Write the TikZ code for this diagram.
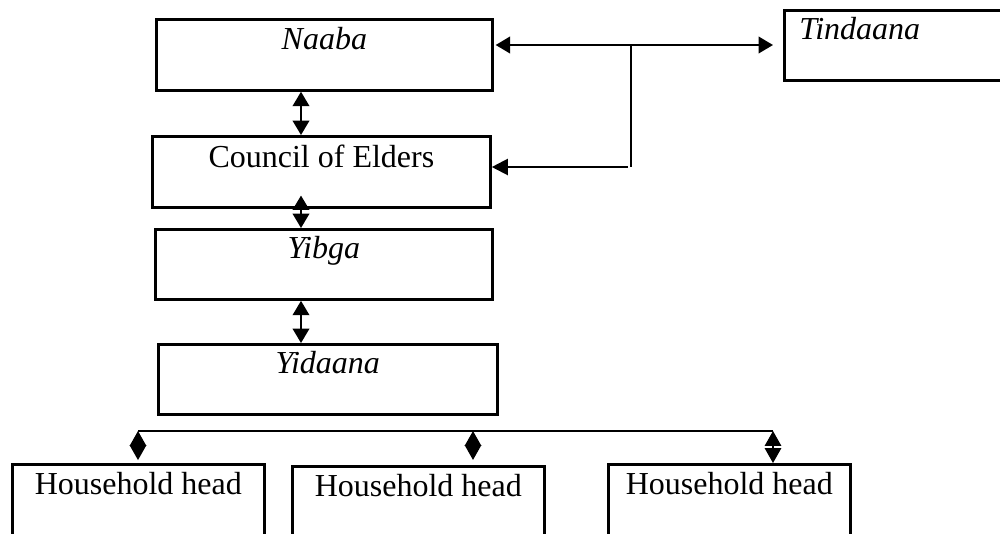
\documentclass[tikz,border=0pt]{standalone}
\usepackage{fontspec}
\setmainfont{Liberation Serif}
\usetikzlibrary{arrows.meta}
\tikzset{
  org box/.style={draw=black, line width=1pt, rectangle, anchor=north west,
    inner xsep=0pt, inner ysep=0pt, font=\fontsize{12}{14}\selectfont},
  org link/.style={draw=black, line width=0.8pt},
  org bar/.style={draw=black, line width=0.5pt},
}

\begin{document}
\begin{tikzpicture}[
  x=0.375pt, y=-0.375pt,
  both/.style={org link, {Triangle[length=5.4pt,width=6.2pt]}-{Triangle[length=5.4pt,width=6.2pt]}},
  toward/.style={org link, -{Triangle[length=6pt,width=6pt]}},
  pair/.style={org bar, {Triangle[length=5.6pt,width=6.2pt]}-{Triangle[length=5.6pt,width=6.2pt]}}
]
  \clip (0,0) rectangle (1000,533);

  \node[org box, minimum width=126pt, text height=11.25pt, text depth=15.4pt] (naaba) at (155,18) {\textit{Naaba}};
  \node[org box, minimum width=126.8pt, text height=11.6pt, text depth=15pt] (council) at (151,135) {Council of Elders};
  \node[org box, minimum width=126.4pt, text height=10.9pt, text depth=15.4pt] (yibga) at (154,228) {\textit{Yibga}};
  \node[org box, minimum width=127.1pt, text height=10.9pt, text depth=15.4pt] (yidaana) at (157,343) {\textit{Yidaana}};
  \node[org box, inner xsep=5.6pt, text width=78.75pt, align=left,
    text height=10.9pt, text depth=15.4pt] (tindaana) at (783,9) {\textit{Tindaana}};

  \node[org box, minimum width=94.5pt, text height=11.25pt, text depth=30pt] (hh1) at (11,463) {Household head};
  \node[org box, minimum width=94.5pt, text height=11.25pt, text depth=30pt] (hh2) at (291,465) {Household head};
  \node[org box, minimum width=90.75pt, text height=11.25pt, text depth=30pt] (hh3) at (607,463) {Household head};

  % chain of authority
  \coordinate (spine) at (301,0);
  \draw[both] (naaba.south -| spine) -- (council.north -| spine);
  \draw[both, shorten <=-4.9pt] (council.south -| spine) -- (yibga.north -| spine);
  \draw[both] (yibga.south -| spine) -- (yidaana.north -| spine);

  % link to the earth priest
  \coordinate (jn) at (631,45);
  \coordinate (jd) at (631,167);
  \draw[both, shorten <=0.75pt, shorten >=3.75pt] (naaba.east |- jn) -- (tindaana.west |- jn);
  \draw[org link] (jn) -- (jd);
  \draw[toward] ([xshift=-1.1pt]jd) -- (council.east |- jd);

  % households
  \coordinate (b1) at (138,431);
  \coordinate (b2) at (473,431);
  \coordinate (b3) at (773,431);
  \draw[org bar] (b1) -- (b3);
  \draw[pair, shorten >=1.1pt] (b1) -- (b1 |- hh1.north);
  \draw[pair, shorten >=1.9pt] (b2) -- (b2 |- hh2.north);
  \draw[pair] (b3) -- (b3 |- hh3.north);
\end{tikzpicture}
\end{document}
